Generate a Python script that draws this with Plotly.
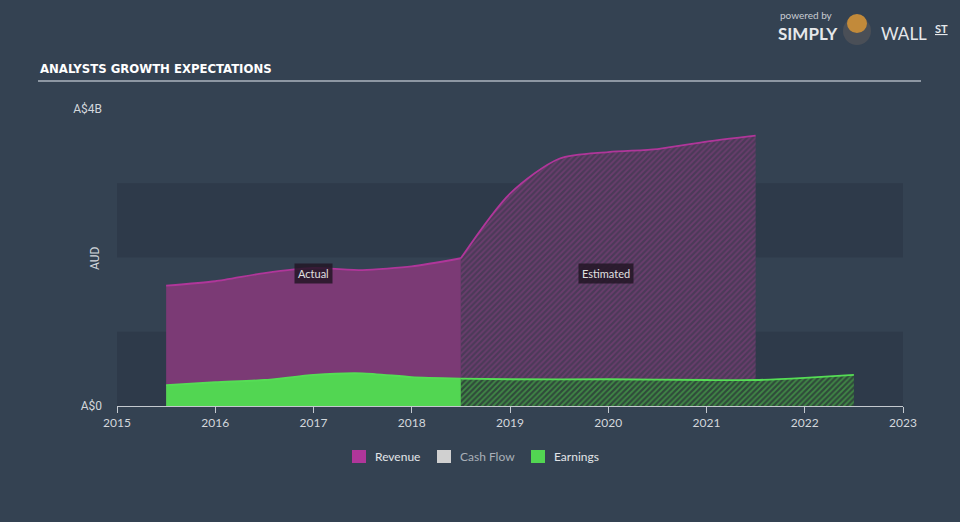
import plotly.graph_objects as go

# ---- data (A$ billions) ----
rev_act_x = [2015.5, 2016.0, 2016.5, 2017.0, 2017.5, 2018.0, 2018.5]
rev_act_y = [1.62, 1.68, 1.79, 1.86, 1.83, 1.88, 1.99]
rev_est_x = [2018.5, 2019.0, 2019.5, 2020.0, 2020.5, 2021.0, 2021.5]
rev_est_y = [1.99, 2.86, 3.33, 3.42, 3.46, 3.56, 3.64]
earn_act_x = [2015.5, 2016.0, 2016.5, 2017.0, 2017.5, 2018.0, 2018.5]
earn_act_y = [0.28, 0.32, 0.35, 0.42, 0.44, 0.39, 0.37]
earn_est_x = [2018.5, 2019.0, 2020.0, 2021.0, 2021.5, 2022.0, 2022.5]
earn_est_y = [0.37, 0.36, 0.36, 0.35, 0.35, 0.38, 0.42]
x_ticks = [2015, 2016, 2017, 2018, 2019, 2020, 2021, 2022, 2023]
y_ticks = [0, 4]
y_tick_labels = ["A$0", "A$4B"]
legend_names = ["Revenue", "Cash Flow", "Earnings"]
legend_colors = ["#b0369a", "#d0d0d0", "#52d652"]
legend_text_colors = ["#e2e5e8", "#a9b0b8", "#e2e5e8"]

BG = "#344252"
BAND = "#2e3a4a"
TXT = "#d3d7dc"

L, R, T, B = 117, 57, 109, 116
PW, PH = 960 - L - R, 522 - T - B


def px(xp, yp):
    return (xp - L) / PW, (522 - B - yp) / PH


fig = go.Figure()

fig.add_trace(go.Scatter(x=rev_act_x, y=rev_act_y, mode="lines", fill="tozeroy",
                         line=dict(color="#b0369a", width=1.8, shape="spline", smoothing=0.6),
                         fillcolor="#7b3a75", showlegend=False, hoverinfo="skip"))
fig.add_trace(go.Scatter(x=rev_est_x, y=rev_est_y, mode="lines", fill="tozeroy",
                         line=dict(color="#b0369a", width=1.8, shape="spline", smoothing=0.8),
                         fillcolor="#7b3a75",
                         fillpattern=dict(shape="/", fgcolor="#8a4082", bgcolor="#4b3a58",
                                          size=4, solidity=0.45),
                         showlegend=False, hoverinfo="skip"))
fig.add_trace(go.Scatter(x=earn_act_x, y=earn_act_y, mode="lines", fill="tozeroy",
                         line=dict(color="#55dd55", width=1.8, shape="spline", smoothing=0.6),
                         fillcolor="#52d652", showlegend=False, hoverinfo="skip"))
fig.add_trace(go.Scatter(x=earn_est_x, y=earn_est_y, mode="lines", fill="tozeroy",
                         line=dict(color="#55dd55", width=1.8, shape="spline", smoothing=0.6),
                         fillcolor="#52d652",
                         fillpattern=dict(shape="/", fgcolor="#52c852", bgcolor="#2f4a3a",
                                          size=4, solidity=0.45),
                         showlegend=False, hoverinfo="skip"))

fig.update_layout(
    width=960, height=522,
    paper_bgcolor=BG, plot_bgcolor=BG,
    margin=dict(l=L, r=R, t=T, b=B),
    font=dict(family="Lato, Roboto, sans-serif", color=TXT, size=12),
    xaxis=dict(range=[2015, 2023], tickvals=x_ticks, ticktext=[str(v) for v in x_ticks],
               showgrid=False, zeroline=False, showline=True, linecolor="#c4c9cf", linewidth=1,
               ticks="outside", ticklen=6, tickcolor="#c4c9cf",
               tickfont=dict(color=TXT, size=12, family="Lato, sans-serif")),
    yaxis=dict(range=[0, 4], tickvals=y_ticks, ticktext=y_tick_labels, showgrid=False,
               zeroline=False, showline=False, ticks="", ticklabelstandoff=14,
               tickfont=dict(color=TXT, size=12, family="Roboto, sans-serif")),
    showlegend=False,
)

# horizontal bands
for y0, y1 in [(0, 1), (2, 3)]:
    fig.add_shape(type="rect", xref="paper", yref="y", x0=0, x1=1, y0=y0, y1=y1,
                  fillcolor=BAND, line=dict(width=0), layer="below")

# title and underline
ux0, uy = px(38, 81)
ux1, _ = px(921, 81)
fig.add_shape(type="line", xref="paper", yref="paper", x0=ux0, x1=ux1, y0=uy, y1=uy,
              line=dict(color="#8d97a3", width=2))
tx, ty = px(38, 68)
fig.add_annotation(text="<b>ANALYSTS GROWTH EXPECTATIONS</b>", xref="paper", yref="paper",
                   x=tx, y=ty, xanchor="left", yanchor="middle", showarrow=False,
                   font=dict(family="DejaVu Sans Condensed, Liberation Sans Narrow, sans-serif",
                             size=13, color="#ffffff"))
ax, ay = px(95, 258)
fig.add_annotation(text="AUD", xref="paper", yref="paper", x=ax, y=ay, xanchor="center",
                   yanchor="middle", textangle=-90, showarrow=False,
                   font=dict(color=TXT, size=12, family="Roboto, sans-serif"))

for txt, xv in [("Actual", 2017.0), ("Estimated", 2019.98)]:
    fig.add_annotation(text=txt, x=xv, y=(405 - 272) / 74.25, showarrow=False,
                       bgcolor="rgba(35,22,38,0.85)", borderpad=3,
                       font=dict(color="#e0e0e0", size=11, family="Lato, sans-serif"))

# legend (manual)
leg_sq = [352, 437, 531]
for name, col, tcol, sx in zip(legend_names, legend_colors, legend_text_colors, leg_sq):
    x0, y0 = px(sx, 450)
    x1, y1 = px(sx + 14, 463)
    fig.add_shape(type="rect", xref="paper", yref="paper", x0=x0, x1=x1, y0=y1, y1=y0,
                  fillcolor=col, line=dict(width=0))
    lx, ly = px(sx + 21, 456.5)
    fig.add_annotation(text=name, xref="paper", yref="paper", x=lx, y=ly, xanchor="left",
                       yanchor="middle", showarrow=False,
                       font=dict(color=tcol, size=12, family="Lato, sans-serif"))

# logo
lx, ly = px(806, 15)
fig.add_annotation(text="powered by", xref="paper", yref="paper", x=lx, y=ly, xanchor="center",
                   yanchor="middle", showarrow=False,
                   font=dict(color="#c8ccd2", size=10, family="Lato, sans-serif"))
lx, ly = px(808, 33)
fig.add_annotation(text="<b>SIMPLY</b>", xref="paper", yref="paper", x=lx, y=ly, xanchor="center",
                   yanchor="middle", showarrow=False,
                   font=dict(color="#e6e8eb", size=17, family="Lato, sans-serif"))
cx0, cy0 = px(843, 17)
cx1, cy1 = px(871, 45)
fig.add_shape(type="circle", xref="paper", yref="paper", x0=cx0, y0=cy1, x1=cx1, y1=cy0,
              fillcolor="#4a4f57", line=dict(width=0))
hx0, hy0 = px(847, 14)
hx1, hy1 = px(867, 33)
fig.add_shape(type="circle", xref="paper", yref="paper", x0=hx0, y0=hy1, x1=hx1, y1=hy0,
              fillcolor="#c28a3a", line=dict(width=0))
lx, ly = px(904, 33)
fig.add_annotation(text="WALL", xref="paper", yref="paper", x=lx, y=ly, xanchor="center",
                   yanchor="middle", showarrow=False,
                   font=dict(color="#e6e8eb", size=17, family="Lato, sans-serif"))
lx, ly = px(941, 29)
fig.add_annotation(text="<b><u>ST</u></b>", xref="paper", yref="paper", x=lx, y=ly,
                   xanchor="center", yanchor="middle", showarrow=False,
                   font=dict(color="#e6e8eb", size=11, family="Lato, sans-serif"))

fig.write_html("out.html")
